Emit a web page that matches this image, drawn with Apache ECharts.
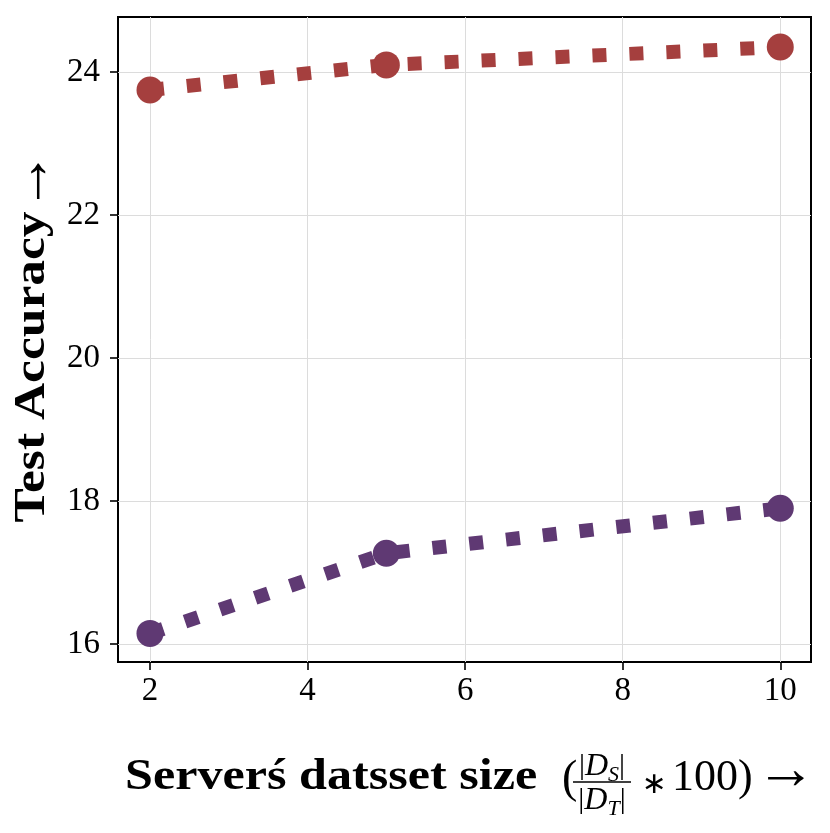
<!DOCTYPE html>
<html>
<head>
<meta charset="utf-8">
<script src="https://cdn.jsdelivr.net/npm/echarts@6/dist/echarts.min.js"></script>
<style>
html,body{margin:0;padding:0;background:#fff;}
#chart{width:830px;height:833px;}
</style>
</head>
<body>
<div id="chart"></div>
<script>
// ---- data ----
const sizes = [2, 5, 10];
const accRed = [23.75, 24.1, 24.35];
const accPurple = [16.15, 17.27, 17.9];
const xTicks = [2, 4, 6, 8, 10];
const yTicks = [16, 18, 20, 22, 24];
const yTitle = 'Test Accuracy';
const xTitle = 'Serverś datsset size';

const FONT = '"Liberation Serif", "DejaVu Serif", serif';
const chart = echarts.init(document.getElementById('chart'), null, {renderer: 'canvas'});

function pairs(xs, ys) { return xs.map((x, i) => [x, ys[i]]); }

const fracRich = {
  v: {fontFamily: FONT, fontSize: 30, lineHeight: 32, verticalAlign: 'top', color: '#000'},
  i: {fontFamily: FONT, fontSize: 32, fontStyle: 'italic', lineHeight: 32, verticalAlign: 'top', color: '#000'},
  s: {fontFamily: FONT, fontSize: 22, fontStyle: 'italic', lineHeight: 22, verticalAlign: 'top', padding: [13, 0, 0, 0], color: '#000'}
};

const option = {
  backgroundColor: '#fff',
  animation: false,
  grid: {left: 118, right: 19, top: 17, bottom: 171, show: true, borderColor: '#000', borderWidth: 2, backgroundColor: 'transparent'},
  xAxis: {
    type: 'value', min: 1.594, max: 10.39,
    axisLine: {show: false},
    axisTick: {show: true, length: 8, lineStyle: {color: '#000', width: 1.6}, customValues: xTicks},
    axisLabel: {margin: 13, fontFamily: FONT, fontSize: 33, color: '#000', customValues: xTicks},
    splitLine: {show: true, lineStyle: {color: '#dcdcdc', width: 1}}
  },
  yAxis: {
    type: 'value', min: 15.75, max: 24.77,
    axisLine: {show: false},
    axisTick: {show: true, length: 8, lineStyle: {color: '#000', width: 1.6}, customValues: yTicks},
    axisLabel: {margin: 18, fontFamily: FONT, fontSize: 33, color: '#000', customValues: yTicks},
    splitLine: {show: true, lineStyle: {color: '#dcdcdc', width: 1}}
  },
  series: [
    {
      type: 'line', data: pairs(sizes, accRed),
      symbol: 'circle', symbolSize: 27,
      itemStyle: {color: '#a53f3e'},
      lineStyle: {color: '#a53f3e', width: 14, type: [14, 23], cap: 'butt'},
      z: 3
    },
    {
      type: 'line', data: pairs(sizes, accPurple),
      symbol: 'circle', symbolSize: 27,
      itemStyle: {color: '#5f3973'},
      lineStyle: {color: '#5f3973', width: 14, type: [14, 23], cap: 'butt'},
      z: 3
    }
  ],
  graphic: [
    {
      type: 'text', x: 33, y: 367, rotation: Math.PI / 2, scaleX: 1.17,
      style: {
        text: yTitle, fontFamily: FONT, fontSize: 44, fontWeight: 'bold', fill: '#000',
        align: 'center', verticalAlign: 'middle'
      }
    },
    {
      type: 'text', x: 32, y: 181, rotation: Math.PI / 2,
      style: {text: '→', fontFamily: FONT, fontSize: 60, fill: '#000', align: 'center', verticalAlign: 'middle'}
    },
    {
      type: 'text', x: 125, y: 778, scaleX: 1.14,
      style: {text: xTitle, fontFamily: FONT, fontSize: 44, fontWeight: 'bold', fill: '#000', align: 'left', verticalAlign: 'middle'}
    },
    {
      type: 'text', x: 562, y: 780,
      style: {text: '(', fontFamily: FONT, fontSize: 46, fill: '#000', align: 'left', verticalAlign: 'middle'}
    },
    {
      type: 'text', x: 602, y: 767,
      style: {text: '{v||}{i|D}{s|S}{v||}', rich: fracRich, align: 'center', verticalAlign: 'middle'}
    },
    {
      type: 'line', shape: {x1: 573, y1: 782, x2: 631, y2: 782},
      style: {stroke: '#000', lineWidth: 1.6}
    },
    {
      type: 'text', x: 602, y: 801,
      style: {text: '{v||}{i|D}{s|T}{v||}', rich: fracRich, align: 'center', verticalAlign: 'middle'}
    },
    {
      type: 'text', x: 654, y: 785,
      style: {text: '∗', fontFamily: '"DejaVu Sans", sans-serif', fontSize: 30, fill: '#000', align: 'center', verticalAlign: 'middle'}
    },
    {
      type: 'text', x: 672, y: 778,
      style: {text: '100)', fontFamily: FONT, fontSize: 44, fill: '#000', align: 'left', verticalAlign: 'middle'}
    },
    {
      type: 'text', x: 786, y: 772,
      style: {text: '→', fontFamily: FONT, fontSize: 60, fill: '#000', align: 'center', verticalAlign: 'middle'}
    }
  ]
};
chart.setOption(option);
</script>
</body>
</html>
